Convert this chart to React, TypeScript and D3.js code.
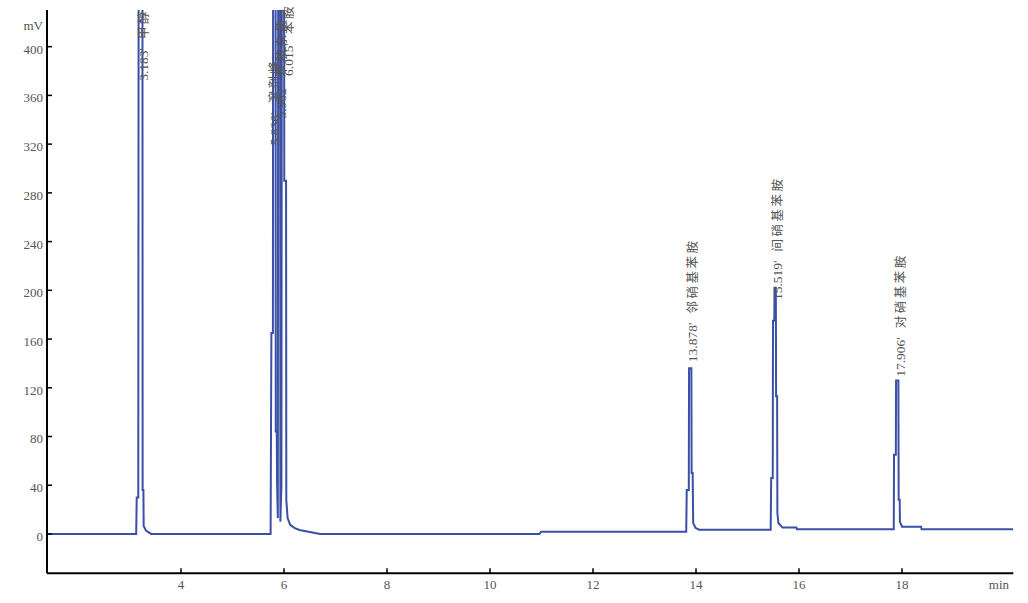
import React from 'react';
import * as d3 from 'd3';

// Chromatogram trace (time in min, signal in mV)
const times = [
  1.398, 3.13, 3.14, 3.17, 3.18, 3.25, 3.255, 3.27, 3.275, 3.32, 3.42,
  5.74, 5.755, 5.785, 5.79, 5.835, 5.84, 5.86, 5.865, 5.88, 5.89, 5.925, 5.93, 5.95, 5.96, 6.0, 6.005, 6.04, 6.045, 6.07, 6.12, 6.2, 6.3, 6.45, 6.7,
  10.96, 10.99,
  13.81, 13.82, 13.86, 13.865, 13.91, 13.915, 13.935, 13.945, 13.99, 14.06,
  15.45, 15.46, 15.49, 15.495, 15.52, 15.525, 15.55, 15.555, 15.575, 15.58, 15.6, 15.68, 15.95, 15.96,
  17.84, 17.845, 17.88, 17.885, 17.93, 17.935, 17.955, 17.96, 18.0, 18.37, 18.38, 20.161,
];
const values = [
  0, 0, 30, 30, 620, 620, 36, 36, 6.5, 2.7, 0,
  0, 165, 165, 620, 620, 84, 84, 42, 13, 620, 620, 10, 40, 620, 620, 290, 290, 28, 13, 7.5, 5, 3.3, 2, 0,
  0, 1.8,
  1.8, 36, 36, 136, 136, 50, 50, 9, 5, 3.5,
  3.5, 46, 46, 175, 175, 202, 202, 113, 113, 17, 9, 5.2, 5.2, 3.8,
  3.8, 65, 65, 126, 126, 28, 28, 10, 6, 6, 3.8, 3.8,
];

const yTicks = [0, 40, 80, 120, 160, 200, 240, 280, 320, 360, 400];
const xTicks = [4, 6, 8, 10, 12, 14, 16, 18];

// Peak annotations
const labelTimes = [3.2, 5.75, 5.89, 6.02, 13.878, 15.519, 17.906];
const labelValues = [372, 319, 341, 376, 141, 192, 129];
const labelRT = ["3.183'", "5.836'", "5.962'", "6.015'", "13.878'", "15.519'", "17.906'"];
const labelNames = ['甲醇', '溶剂峰', '苯胺杂质', '苯胺', '邻硝基苯胺', '间硝基苯胺', '对硝基苯胺'];

const W = 1028;
const H = 603;
const LEFT = 47;
const RIGHT = 1013.3;
const TOP = 10;
const BOTTOM = 573.3;

export default function App() {
  const x = d3.scaleLinear().domain([1.398, 20.161]).range([LEFT, RIGHT]);
  const y = d3.scaleLinear().domain([-32.3, 430.1]).range([BOTTOM, TOP]);
  const pts = times.map((t, i) => [t, values[i]] as [number, number]);
  const line = d3
    .line<[number, number]>()
    .x((d) => x(d[0]))
    .y((d) => y(d[1]))
    .curve(d3.curveLinear);

  const serif = '"Liberation Serif", "Times New Roman", serif';
  const textColor = '#555';

  return (
    <svg
      width={W}
      height={H}
      style={{ position: 'absolute', left: 0, top: 0, background: '#fff' }}
    >
      <defs>
        <clipPath id="plotclip">
          <rect x={LEFT} y={TOP} width={RIGHT - LEFT} height={BOTTOM - TOP} />
        </clipPath>
      </defs>
      <rect x={0} y={0} width={W} height={H} fill="#fff" />

      {/* trace */}
      <path
        d={line(pts) || ''}
        fill="none"
        stroke="#3a4fa5"
        strokeWidth={2}
        strokeLinejoin="miter"
        clipPath="url(#plotclip)"
      />

      {/* axes */}
      <line x1={LEFT} x2={LEFT} y1={TOP} y2={BOTTOM} stroke="#000" strokeWidth={2} />
      <line x1={LEFT} x2={RIGHT} y1={BOTTOM} y2={BOTTOM} stroke="#000" strokeWidth={2} />

      {yTicks.map((v) => (
        <g key={'y' + v}>
          <line x1={LEFT} x2={LEFT + 5} y1={y(v)} y2={y(v)} stroke="#000" strokeWidth={1.5} />
          <text
            x={43}
            y={y(v) + 7}
            textAnchor="end"
            fontFamily={serif}
            fontSize={13}
            fill={textColor}
          >
            {v}
          </text>
        </g>
      ))}
      <text x={43} y={30} textAnchor="end" fontFamily={serif} fontSize={13} fill={textColor}>
        mV
      </text>

      {xTicks.map((v) => (
        <g key={'x' + v}>
          <line x1={x(v)} x2={x(v)} y1={BOTTOM} y2={BOTTOM - 5} stroke="#000" strokeWidth={1.5} />
          <text
            x={x(v)}
            y={589}
            textAnchor="middle"
            fontFamily={serif}
            fontSize={13}
            fill={textColor}
          >
            {v}
          </text>
        </g>
      ))}
      <text x={1009} y={589} textAnchor="end" fontFamily={serif} fontSize={13} fill={textColor}>
        min
      </text>

      {/* peak labels */}
      {labelTimes.map((t, i) => {
        const px = x(t) + 3;
        const py = y(labelValues[i]);
        return (
          <text
            key={'lab' + i}
            transform={`translate(${px},${py}) rotate(-90)`}
            dy="0.35em"
            fontFamily={serif}
            fontSize={13.5}
            fill={textColor}
          >
            <tspan>{labelRT[i]}</tspan>
            <tspan
              dx={9}
              fontFamily='"Noto Sans CJK SC", sans-serif'
              fontSize={12.5}
              letterSpacing={2.5}
            >
              {labelNames[i]}
            </tspan>
          </text>
        );
      })}
    </svg>
  );
}
